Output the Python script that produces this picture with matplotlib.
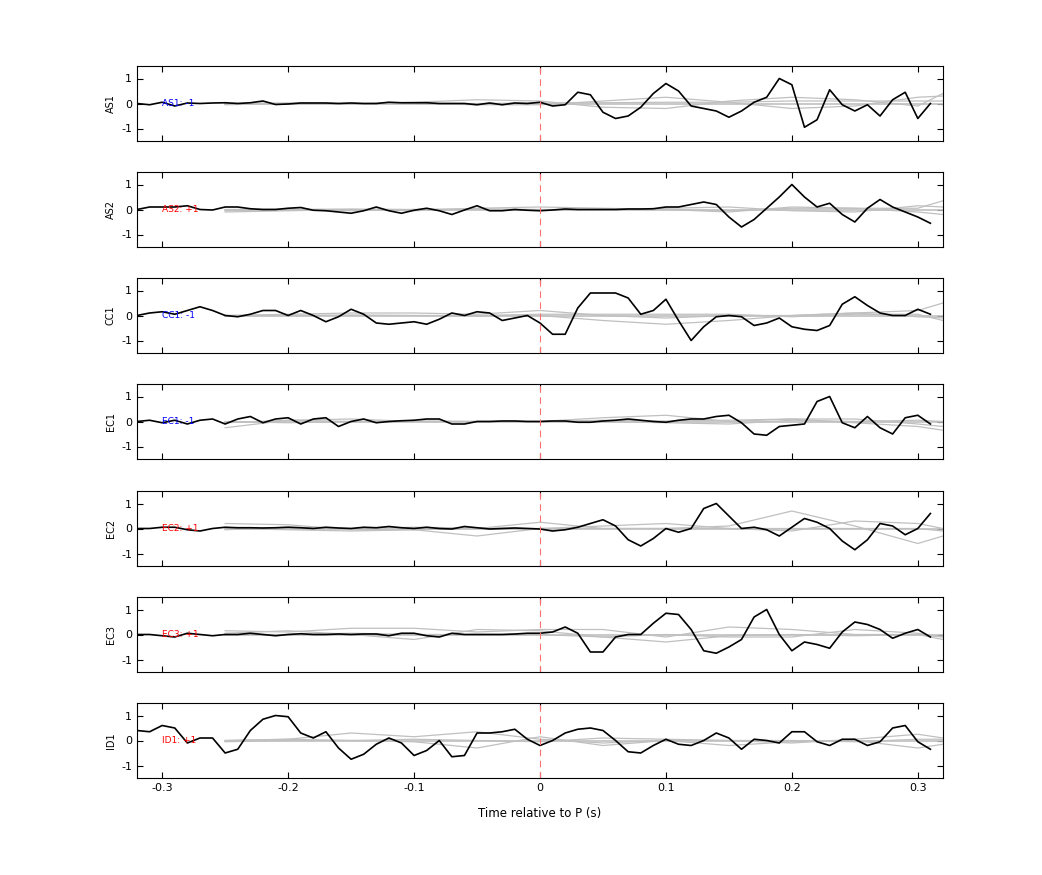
import numpy as np
import matplotlib
matplotlib.use("Agg")
import matplotlib.pyplot as plt

plt.rcParams["axes.unicode_minus"] = False

t = np.round(np.arange(-0.32, 0.315, 0.01), 2)

stations = ["AS1", "AS2", "CC1", "EC1", "EC2", "EC3", "ID1"]
polarity = ["-1", "+1", "-1", "-1", "+1", "+1", "+1"]

as1 = [0, -0.05, 0.05, -0.1, 0.02, 0, 0.02, 0.03, 0.0, 0.03, 0.1, -0.04, -0.02, 0.02, 0.02, 0.02, 0.0, 0.02,
       0.0, 0.0, 0.05, 0.03, 0.03, 0.03, 0.0, 0.0, 0.0, -0.05, 0.02, -0.05, 0.02, 0.0, 0.05, -0.1, -0.05, 0.45,
       0.35, -0.35, -0.6, -0.5, -0.15, 0.4, 0.8, 0.5, -0.1, -0.2, -0.3, -0.55, -0.3, 0.05, 0.25, 1.0, 0.75,
       -0.95, -0.65, 0.55, -0.05, -0.3, -0.05, -0.5, 0.15, 0.45, -0.6, 0.0]
as2 = [0, 0.1, 0.1, 0.1, 0.15, 0.0, -0.02, 0.1, 0.1, 0.03, 0.0, 0.0, 0.05, 0.08, -0.03, -0.05, -0.1, -0.15,
       -0.05, 0.1, -0.05, -0.15, -0.03, 0.05, -0.05, -0.2, -0.02, 0.15, -0.05, -0.05, 0.0, -0.03, -0.05, -0.02,
       0.02, 0.0, 0.0, 0.0, 0.0, 0.02, 0.02, 0.03, 0.1, 0.1, 0.2, 0.3, 0.2, -0.3, -0.7, -0.4, 0.05, 0.5, 1.0,
       0.5, 0.1, 0.25, -0.2, -0.5, 0.05, 0.4, 0.1, -0.1, -0.3, -0.55]
cc1 = [0, 0.1, 0.15, 0.05, 0.2, 0.35, 0.2, 0.0, -0.05, 0.05, 0.2, 0.2, 0.0, 0.2, 0.0, -0.25, -0.05, 0.25,
       0.05, -0.3, -0.35, -0.3, -0.25, -0.35, -0.15, 0.1, 0.0, 0.15, 0.1, -0.2, -0.1, 0.0, -0.3, -0.75, -0.75,
       0.3, 0.9, 0.9, 0.9, 0.7, 0.05, 0.2, 0.65, -0.2, -1.0, -0.45, -0.05, 0.0, -0.05, -0.4, -0.3, -0.1, -0.45,
       -0.55, -0.6, -0.4, 0.45, 0.75, 0.4, 0.1, 0.0, 0.0, 0.25, 0.05]
ec1 = [0, 0.05, -0.05, 0.05, -0.1, 0.05, 0.1, -0.1, 0.1, 0.2, -0.05, 0.1, 0.15, -0.1, 0.1, 0.15, -0.2, 0.0,
       0.1, -0.05, 0.0, 0.03, 0.05, 0.1, 0.1, -0.1, -0.1, 0.0, 0.0, 0.02, 0.02, 0.0, 0.0, 0.02, 0.02, -0.03,
       -0.03, 0.02, 0.05, 0.1, 0.05, 0.0, -0.03, 0.05, 0.1, 0.1, 0.2, 0.25, -0.05, -0.5, -0.55, -0.2, -0.15,
       -0.1, 0.8, 1.0, -0.05, -0.25, 0.2, -0.25, -0.5, 0.15, 0.25, -0.1]
ec2 = [0, 0.0, 0.05, 0.05, -0.05, -0.1, 0.0, 0.05, 0.03, 0.03, 0.02, 0.03, 0.05, 0.03, 0.0, 0.05, 0.02,
       0.0, 0.05, 0.03, 0.08, 0.03, 0.0, 0.05, 0.0, -0.02, 0.08, 0.03, -0.02, 0.0, 0.02, 0.0, -0.02, -0.1,
       -0.05, 0.05, 0.2, 0.35, 0.1, -0.45, -0.7, -0.4, 0.0, -0.15, 0.0, 0.8, 1.0, 0.5, 0.0, 0.05, -0.05, -0.3,
       0.05, 0.4, 0.25, 0.0, -0.5, -0.85, -0.45, 0.2, 0.1, -0.25, 0.0, 0.6]
ec3 = [0, 0.0, -0.05, -0.1, 0.05, 0.0, -0.05, 0.0, 0.0, 0.05, 0.0, -0.05, 0.0, 0.03, 0.0, 0.0, 0.02, 0.0,
       0.02, 0.02, -0.05, 0.05, 0.05, -0.05, -0.1, 0.05, 0.0, 0.0, 0.0, 0.0, 0.02, 0.05, 0.05, 0.1, 0.3, 0.05,
       -0.7, -0.7, -0.1, 0.0, 0.0, 0.45, 0.85, 0.8, 0.2, -0.65, -0.75, -0.5, -0.2, 0.7, 1.0, 0.0, -0.65, -0.3,
       -0.4, -0.55, 0.1, 0.5, 0.4, 0.2, -0.15, 0.05, 0.2, -0.1]
id1 = [0.4, 0.35, 0.6, 0.5, -0.1, 0.1, 0.1, -0.5, -0.35, 0.4, 0.85, 1.0, 0.95, 0.3, 0.1, 0.35, -0.3, -0.75,
       -0.55, -0.15, 0.1, -0.1, -0.6, -0.4, 0.0, -0.65, -0.6, 0.3, 0.3, 0.35, 0.45, 0.05, -0.2, 0.0, 0.3, 0.45,
       0.5, 0.4, 0.0, -0.45, -0.5, -0.2, 0.05, -0.15, -0.2, 0.0, 0.3, 0.1, -0.35, 0.05, 0.0, -0.1, 0.35, 0.35,
       -0.05, -0.2, 0.05, 0.05, -0.2, -0.05, 0.5, 0.6, -0.05, -0.35]
traces = [as1, as2, cc1, ec1, ec2, ec3, id1]

# grey template curves, sampled every 0.05 s from -0.25 to 0.30, plus 0.32
gt = [-0.25, -0.2, -0.15, -0.1, -0.05, 0.0, 0.05, 0.1, 0.15, 0.2, 0.25, 0.3, 0.32]
grey = [
    [[0, 0, -0.02, 0.05, 0.15, 0.1, -0.15, -0.2, 0.1, 0.25, 0.15, -0.1, 0.4],
     [0, 0.02, 0.0, 0.0, -0.05, -0.05, 0.1, 0.25, 0.05, -0.2, -0.1, 0.25, 0.3],
     [-0.05, 0.0, 0.0, 0.0, 0.0, 0.02, 0.03, 0.05, 0.05, 0.1, 0.1, 0.1, 0.1]],
    [[-0.1, -0.05, 0.0, -0.05, 0.05, 0.1, 0.05, 0.0, -0.1, 0.1, 0.05, 0.05, 0.35],
     [0, 0.02, -0.05, 0.0, 0.0, -0.03, 0.0, 0.05, 0.1, -0.05, -0.1, 0.15, 0.1],
     [-0.05, 0.0, 0.02, 0.0, 0.03, 0.0, 0.0, 0.0, -0.05, 0.05, 0.05, -0.1, -0.2]],
    [[0, 0.05, 0.1, 0.1, 0.05, 0.2, 0.0, -0.1, 0.0, 0.0, 0.1, 0.2, 0.5],
     [0, 0.0, 0.0, 0.0, -0.02, 0.0, -0.2, -0.35, -0.2, 0.0, 0.1, -0.05, -0.1],
     [-0.02, 0.0, 0.02, 0.0, 0.0, 0.05, 0.05, 0.05, 0.05, -0.05, 0.05, 0.05, -0.2]],
    [[-0.25, 0.05, 0.1, 0.0, 0.0, 0.0, 0.15, 0.25, 0.0, 0.1, 0.1, -0.1, -0.2],
     [0, -0.05, 0.0, 0.0, 0.0, 0.0, 0.0, -0.05, -0.1, 0.05, 0.0, 0.05, 0.0],
     [-0.05, 0.05, 0.0, 0.02, 0.0, 0.0, 0.05, 0.02, 0.05, 0.1, -0.05, -0.2, -0.35]],
    [[0.2, 0.15, -0.05, -0.05, 0.0, 0.25, 0.0, 0.0, 0.1, 0.7, 0.1, -0.6, -0.3],
     [0.0, -0.05, -0.1, -0.05, -0.3, 0.0, 0.1, 0.2, 0.0, -0.1, 0.3, 0.2, 0.0],
     [-0.05, 0.05, 0.0, 0.05, 0.02, 0.0, 0.0, 0.0, 0.0, 0.0, 0.0, 0.0, -0.1]],
    [[0.15, 0.1, 0.25, 0.25, 0.1, 0.2, 0.2, -0.1, 0.3, 0.2, 0.0, 0.0, -0.1],
     [0.05, 0.15, 0.0, -0.2, 0.2, 0.15, -0.1, 0.0, -0.1, -0.1, 0.2, 0.05, -0.1],
     [0.0, 0.0, 0.05, 0.0, 0.0, 0.0, -0.1, -0.3, -0.05, 0.0, -0.05, 0.0, -0.2]],
    [[0, 0.05, 0.3, 0.15, 0.35, 0.05, -0.1, 0.0, 0.0, -0.1, 0.05, 0.25, 0.1],
     [0, 0.05, 0.0, -0.05, -0.3, 0.15, -0.2, 0.0, -0.2, -0.05, 0.0, -0.3, -0.15],
     [-0.05, 0.0, 0.0, 0.05, 0.0, -0.05, 0.1, 0.05, 0.0, 0.0, -0.05, 0.05, 0.05]],
]

fig = plt.figure(figsize=(10.42, 8.75), dpi=100)
left, width = 137 / 1042, (943 - 137) / 1042
tops = [66, 172, 278, 384, 491, 597, 703]
h = 75 / 875
for i, name in enumerate(stations):
    ax = fig.add_axes([left, 1 - (tops[i] + 75) / 875, width, h])
    for g in grey[i]:
        ax.plot(gt, g, color="#c0c0c0", lw=0.9)
    ax.plot([-0.25, 0.32], [0, 0], color="#c0c0c0", lw=1.2)
    ax.plot(t, traces[i], color="black", lw=1.2)
    ax.axvline(0, color="#ff7070", ls=(0, (6, 4)), lw=0.8)
    col = "blue" if polarity[i] == "-1" else "red"
    ax.text(-0.30, 0, f"{name}: {polarity[i]}", color=col, fontsize=6.5, va="center", ha="left")
    ax.set_xlim(-0.32, 0.32)
    ax.set_ylim(-1.5, 1.5)
    ax.set_yticks([-1, 0, 1])
    ax.set_xticks([-0.3, -0.2, -0.1, 0, 0.1, 0.2, 0.3])
    ax.set_ylabel(name, fontsize=7)
    ax.tick_params(direction="in", labelsize=8, top=True, right=True, length=4)
    if i < len(stations) - 1:
        ax.set_xticklabels([])
    else:
        ax.set_xticklabels(["-0.3", "-0.2", "-0.1", "0", "0.1", "0.2", "0.3"])
        ax.set_xlabel("Time relative to P (s)", fontsize=8.5, labelpad=10)

fig.savefig("out.png", dpi=100)
